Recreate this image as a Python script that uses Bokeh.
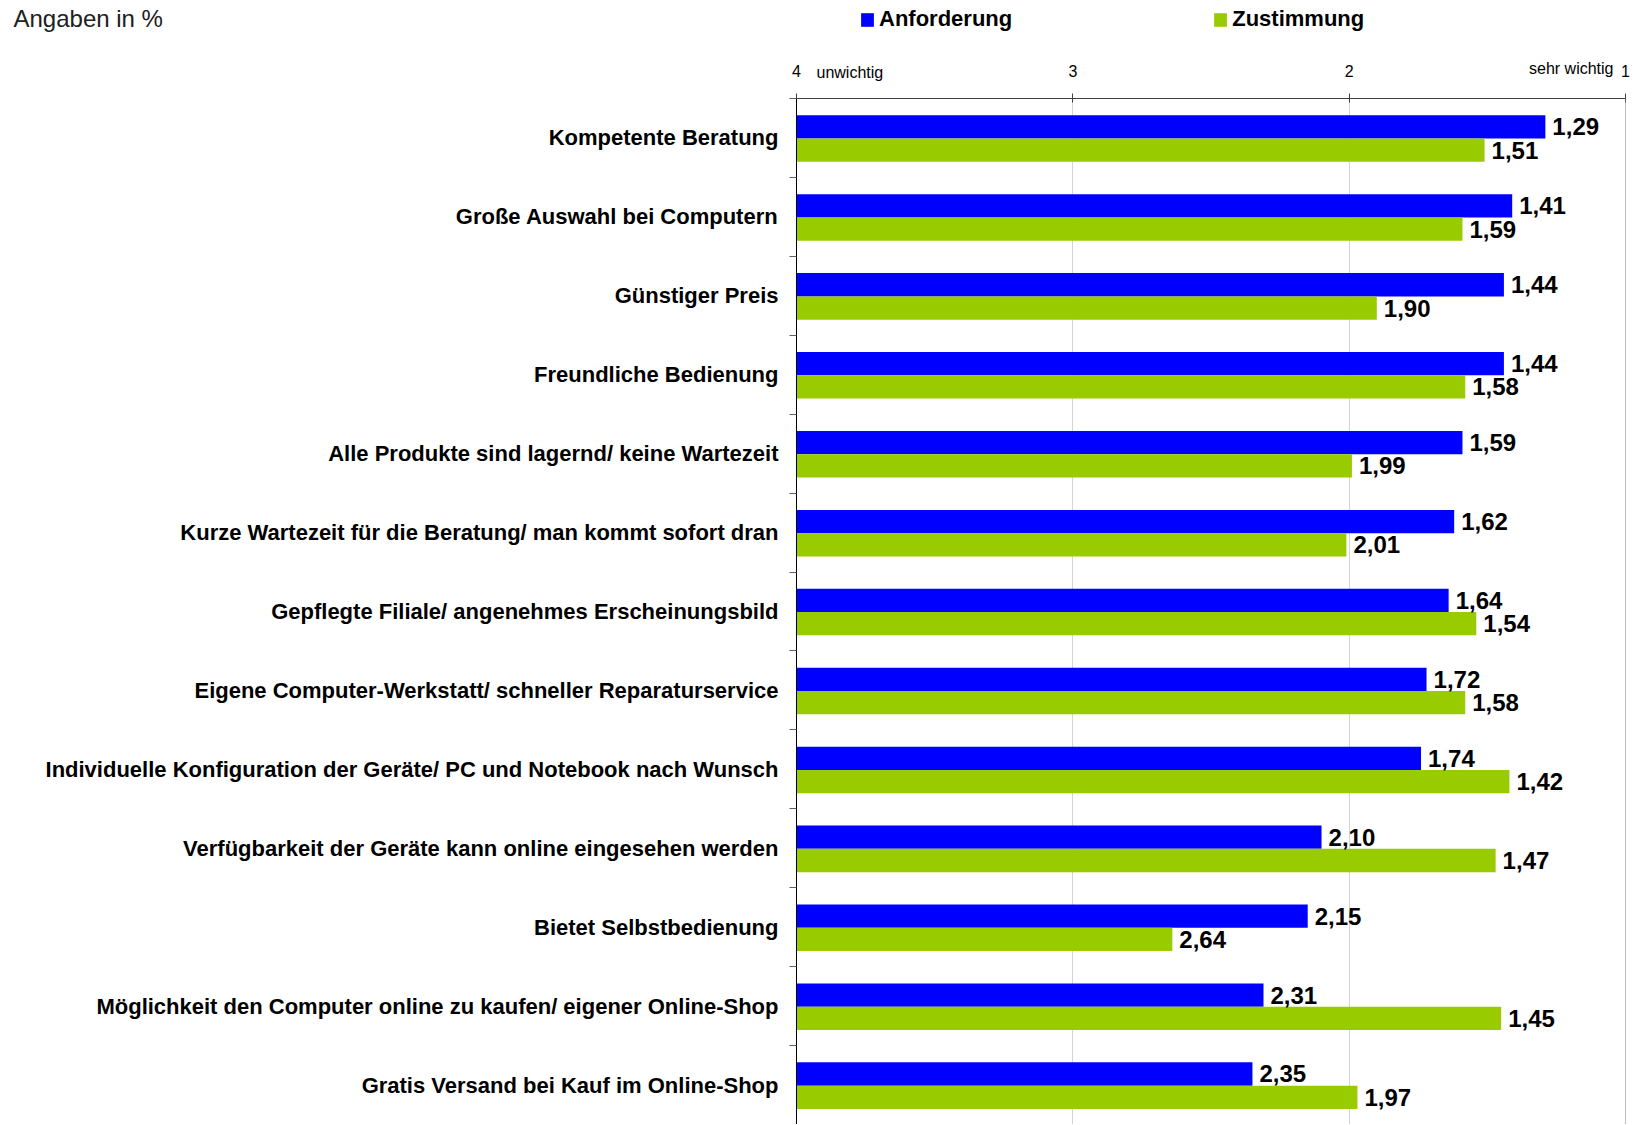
from bokeh.plotting import figure
from bokeh.layouts import column
from bokeh.models import (Range1d, FixedTicker, Label, Legend, LegendItem,
                          ColumnDataSource, Span)
from bokeh.embed import file_html
from bokeh.resources import INLINE
from bokeh.core.properties import value

categories = [
    "Kompetente Beratung",
    "Große Auswahl bei Computern",
    "Günstiger Preis",
    "Freundliche Bedienung",
    "Alle Produkte sind lagernd/ keine Wartezeit",
    "Kurze Wartezeit für die Beratung/ man kommt sofort dran",
    "Gepflegte Filiale/ angenehmes Erscheinungsbild",
    "Eigene Computer-Werkstatt/ schneller Reparaturservice",
    "Individuelle Konfiguration der Geräte/ PC und Notebook nach Wunsch",
    "Verfügbarkeit der Geräte kann online eingesehen werden",
    "Bietet Selbstbedienung",
    "Möglichkeit den Computer online zu kaufen/ eigener Online-Shop",
    "Gratis Versand bei Kauf im Online-Shop",
]
anforderung = [1.29, 1.41, 1.44, 1.44, 1.59, 1.62, 1.64, 1.72, 1.74, 2.10, 2.15, 2.31, 2.35]
zustimmung = [1.51, 1.59, 1.90, 1.58, 1.99, 2.01, 1.54, 1.58, 1.42, 1.47, 2.64, 1.45, 1.97]
x_ticks = [4, 3, 2, 1]
x_tick_labels = ["4", "3", "2", "1"]
series_names = ["Anforderung", "Zustimmung"]
scale_low_label = "unwichtig"
scale_high_label = "sehr wichtig"
title_text = "Angaben in %"

BLUE = "#0000FF"
GREEN = "#99CC00"
FONT = "Liberation Sans"

# layout (pixels)
W = 1632
FRAME_L = 796
FRAME_R = 1625
HEAD_H = 84
MAIN_H = 1040
X_START, X_END = 4, 1
BAR_H = 0.295

n = len(categories)
idx = list(range(n))

def fmt(v):
    return f"{v:.2f}".replace(".", ",")

# ---------------- main chart ----------------
src_a = ColumnDataSource(dict(
    y=[i + 0.36 for i in idx], right=anforderung, left=[X_START] * n,
    lab=[fmt(v) for v in anforderung]))
src_z = ColumnDataSource(dict(
    y=[i + 0.655 for i in idx], right=zustimmung, left=[X_START] * n,
    lab=[fmt(v) for v in zustimmung]))

p = figure(width=W, height=MAIN_H, output_backend="svg", toolbar_location=None,
           x_range=Range1d(X_START, X_END), y_range=Range1d(n, 0),
           x_axis_location="above",
           min_border_left=FRAME_L, min_border_right=W - FRAME_R,
           min_border_top=14, min_border_bottom=0)
p.outline_line_color = None

r_a = p.hbar(y="y", left="left", right="right", height=BAR_H, source=src_a,
             fill_color=BLUE, line_color=None)
r_z = p.hbar(y="y", left="left", right="right", height=BAR_H, source=src_z,
             fill_color=GREEN, line_color=None)

for src in (src_a, src_z):
    p.text(x="right", y="y", text="lab", source=src, x_offset=7,
           text_align="left", text_baseline="middle",
           text_font=value(FONT), text_font_style="bold",
           text_font_size="24px", text_color="black")

xa = p.xaxis[0]
xa.ticker = FixedTicker(ticks=x_ticks)
xa.major_label_text_font_size = "1px"
xa.major_label_text_alpha = 0
xa.major_label_standoff = 0
xa.major_tick_in = 4
xa.major_tick_out = 5
xa.minor_tick_line_color = None
xa.axis_line_color = "#404040"
xa.major_tick_line_color = "#404040"

ya = p.yaxis[0]
ya.ticker = FixedTicker(ticks=[i + 0.5 for i in idx], minor_ticks=list(range(n + 1)))
ya.major_label_overrides = {i + 0.5: c for i, c in zip(idx, categories)}
ya.major_label_text_font = FONT
ya.major_label_text_font_style = "bold"
ya.major_label_text_font_size = "22px"
ya.major_label_text_color = "black"
ya.major_tick_line_color = None
ya.major_tick_out = 0
ya.major_tick_in = 0
ya.major_label_standoff = 11
ya.minor_tick_in = 0
ya.minor_tick_out = 7
ya.minor_tick_line_color = "#606060"
ya.axis_line_color = "black"

p.ygrid.grid_line_color = None
p.xgrid.ticker = FixedTicker(ticks=[3, 2])
p.xgrid.grid_line_color = "#d4d4d4"
p.add_layout(Span(location=X_END, dimension="height", line_color="#808080", line_width=1))

# ---------------- header (legend, scale labels, title) ----------------
ppu = (FRAME_R - FRAME_L) / (X_START - X_END)
hx0 = X_START + FRAME_L / ppu
hx1 = X_END - (W - FRAME_R) / ppu

h = figure(width=W, height=HEAD_H, output_backend="svg", toolbar_location=None,
           x_range=Range1d(hx0, hx1), y_range=Range1d(HEAD_H, 0),
           x_axis_type=None, y_axis_type=None,
           min_border_left=0, min_border_right=0, min_border_top=0, min_border_bottom=0)
h.outline_line_color = None
h.xgrid.grid_line_color = None
h.ygrid.grid_line_color = None

# keep the header's frame independent of the chart's frame
for fig in (h, p):
    if "frame_align" in fig.properties():
        fig.frame_align = False

h.text(x=x_ticks, y=[70] * len(x_ticks), text=x_tick_labels,
       text_align="center", text_baseline="middle",
       text_font=value(FONT), text_font_size="16px", text_color="black")
h.add_layout(Label(x=X_START, y=72, x_offset=20, text=scale_low_label,
                   text_font=FONT, text_font_size="16px", text_baseline="middle",
                   text_align="left", text_color="black"))
h.add_layout(Label(x=X_END, y=68, x_offset=-12, text=scale_high_label,
                   text_font=FONT, text_font_size="16px", text_baseline="middle",
                   text_align="right", text_color="black"))
h.add_layout(Label(x=X_START, y=18, x_offset=13 - FRAME_L, text=title_text,
                   text_font=FONT, text_font_size="24px", text_baseline="alphabetic",
                   text_align="left", text_color="#202020"))

# zero-height copies of the series, used only for the legend swatches
d_a = h.hbar(y=[i + 0.5 for i in idx], left=[X_START] * n, right=anforderung,
             height=0, fill_color=BLUE, line_color=None)
d_z = h.hbar(y=[i + 0.5 for i in idx], left=[X_START] * n, right=zustimmung,
             height=0, fill_color=GREEN, line_color=None)
legend = Legend(items=[LegendItem(label=series_names[0], renderers=[d_a]),
                       LegendItem(label=series_names[1], renderers=[d_z])],
                orientation="horizontal", location=(859, 52),
                label_text_font=FONT, label_text_font_style="bold",
                label_text_font_size="22px", label_text_color="black",
                glyph_width=16, glyph_height=17, label_standoff=4,
                spacing=200, padding=0, margin=0,
                border_line_color=None, background_fill_alpha=0)
h.add_layout(legend, "center")

layout = column(h, p, spacing=0)
open("out.html", "w").write(file_html(layout, INLINE))
